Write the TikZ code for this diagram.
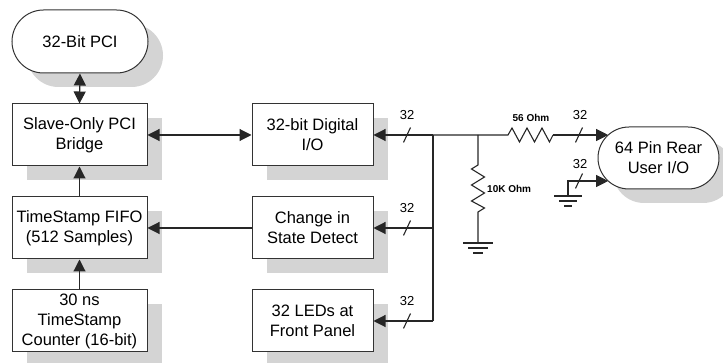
\documentclass[tikz,border=0pt]{standalone}
\usepackage{fontspec}
\setmainfont{Liberation Sans}
\usetikzlibrary{shapes.misc,shadows,arrows.meta}
\begin{document}
\begin{tikzpicture}[x=1pt,y=-1pt,
  shd/.style={drop shadow={shadow xshift=15pt,shadow yshift=-14pt,fill=black!17,opacity=1}},
  blk/.style={draw=black!80,line width=1pt,fill=white,minimum width=135pt,minimum height=62pt,inner sep=0pt,align=center,font=\fontsize{16.5}{20}\selectfont,shd},
  mblk/.style={blk,minimum width=121pt},
  pill/.style={blk,rounded rectangle},
  wire/.style={line width=1.1pt,draw=black!85},
  tip/.tip={Triangle[length=12pt,width=12pt]},
  arr/.style={wire,-tip},
  darr/.style={wire,tip-tip},
  lab/.style={font=\fontsize{13}{14}\selectfont,inner sep=0pt},
  rlab/.style={font=\fontsize{10}{12}\selectfont\bfseries,inner sep=0pt}
]
\useasboundingbox (0,0) rectangle (723,363);
\newcommand{\busmark}[2]{\draw[wire] (#1-3.5,#2+7.5) -- (#1+3.5,#2-7.5);}
% nodes
\node[pill,minimum width=136pt,minimum height=63pt] (pci) at (80,41.5) {32-Bit PCI};
\node[blk] (bridge) at (79.5,135) {Slave-Only PCI\\Bridge};
\node[blk] (fifo) at (79.5,228) {TimeStamp FIFO\\(512 Samples)};
\node[blk] (cnt) at (79.5,321) {30 ns\\TimeStamp\\Counter (16-bit)};
\node[mblk] (dio) at (312.5,135) {32-bit Digital\\I/O};
\node[mblk] (csd) at (312.5,228) {Change in\\State Detect};
\node[mblk] (led) at (312.5,321) {32 LEDs at\\Front Panel};
\node[pill,minimum width=121pt,minimum height=62pt] (rear) at (658.5,158) {64 Pin Rear\\User I/O};
% left connectors
\draw[darr] (pci.south) -- (bridge.north);
\draw[arr] (fifo.north) -- (bridge.south);
\draw[arr] (cnt.north) -- (fifo.south);
\draw[darr] (bridge.east) -- (dio.west);
\draw[arr] (csd.west) -- (fifo.east);
% bus
\coordinate (jt) at (433,135);
\coordinate (jc) at (433,228);
\coordinate (jl) at (433,321);
\draw[arr] (jt) -- (dio.east);
\draw[arr] (jc) -- (csd.east);
\draw[arr] (jl) -- (led.east);
\draw[wire] (jl) -- (jt);
\busmark{407}{135}\busmark{407}{228}\busmark{407}{321}
\node[lab] (l1) at (407,115) {32};
\node[lab] (l2) at (407,208) {32};
\node[lab] (l3) at (407,301) {32};
% resistors
\coordinate (rj) at (478,135);
\coordinate (ra) at (508,135);
\coordinate (rb) at (553,135);
\coordinate (p1) at (608.2,135);
\coordinate (p2) at (608.2,181);
\draw[wire] (jt) -- (rj) -- (ra) -- (512,128) -- (519.5,142) -- (527,128) -- (534.5,142) -- (542,128) -- (549.5,142) -- (rb);
\draw[arr] (rb) -- (p1);
\busmark{579}{135}
\node[lab] (l4) at (580,115) {32};
\node[rlab] (r56) at (531,118) {56 Ohm};
\coordinate (ga) at (478,243);
\draw[wire] (rj) -- (478,165) -- (471.5,169) -- (484.5,177) -- (471.5,185) -- (484.5,193) -- (471.5,201) -- (484.5,208) -- (478,212) -- (ga);
\draw[wire] (463,243) -- (493,243) (468,248) -- (488,248) (473,253) -- (483,253);
\node[rlab,anchor=west] (r10) at (487,189) {10K Ohm};
% second ground
\coordinate (gb) at (568,196);
\draw[arr] (gb) -- (568,181) -- (p2);
\draw[wire] (554,196) -- (582,196) (559,201) -- (577,201) (564,206) -- (572,206);
\busmark{579}{181}
\node[lab] (l5) at (580,164) {32};
\end{tikzpicture}
\end{document}
